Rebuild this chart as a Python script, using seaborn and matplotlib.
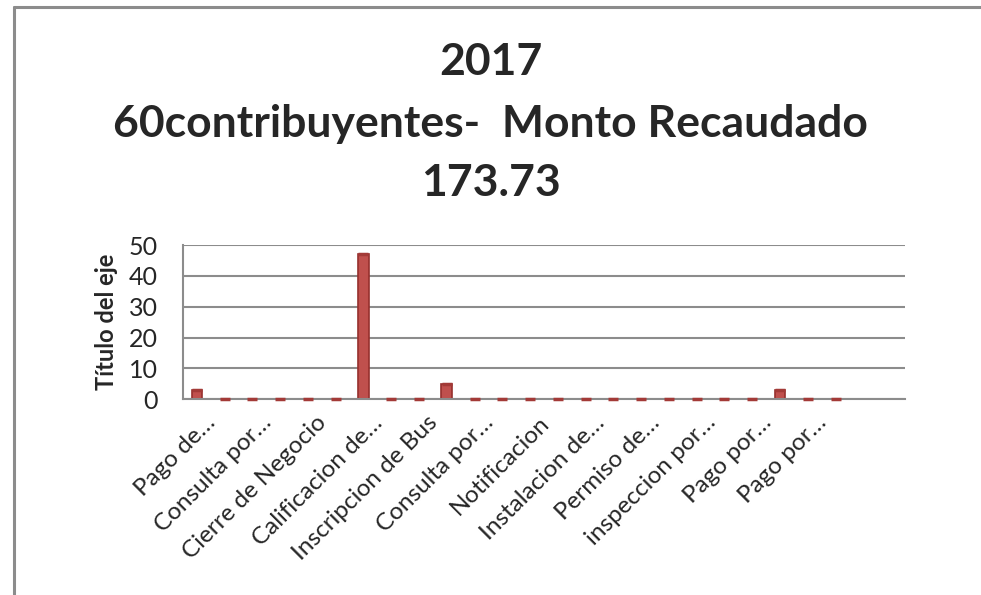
import matplotlib
matplotlib.use('Agg')
import matplotlib.pyplot as plt
import matplotlib.transforms as mtransforms
import pandas as pd
import numpy as np
import seaborn as sns
from matplotlib.lines import Line2D

# data (24 categories, only every other one is labelled)
tramites = [f'T{i + 1:02d}' for i in range(24)]
cantidad = [3, 0, 0, 0, 0, 0, 47, 0, 0, 5, 0, 0,
            0, 0, 0, 0, 0, 0, 0, 0, 0, 3, 0, 0]
etiquetas = ['Pago de…', 'Consulta por…', 'Cierre de Negocio', 'Calificacion de…',
             'Inscripcion de Bus', 'Consulta por…', 'Notificacion', 'Instalacion de…',
             'Permiso de…', 'inspeccion por…', 'Pago por…', 'Pago por…']
titulo = ['2017', '60contribuyentes-  Monto Recaudado', '173.73']

df = pd.DataFrame({'tramite': tramites, 'cantidad': cantidad})

sns.set_style('white')
plt.rcParams['font.family'] = ['Lato', 'DejaVu Sans']

fig = plt.figure(figsize=(9.81, 5.95), dpi=100)
ax = fig.add_axes([0.1865, 0.329, 0.736, 0.259])

sns.barplot(data=df, x='tramite', y='cantidad', color='#C0504D', width=0.38,
            edgecolor='#96302D', linewidth=1.2, saturation=1, ax=ax)
# flat "tops" so that the zero bars still show as small dashes
sns.scatterplot(data=df, x='tramite', y='cantidad', marker='_', s=60,
                color='#A33A37', linewidth=2.5, ax=ax, zorder=3, clip_on=False)

ax.set_ylim(0, 50)
ax.set_xlim(-0.5, len(tramites) + 1.5)
ax.set_yticks(range(0, 51, 10))
ax.yaxis.grid(True, color='#8c8c8c', linewidth=1.5)
ax.set_axisbelow(True)
for s in ['top', 'right']:
    ax.spines[s].set_visible(False)
for s in ['left', 'bottom']:
    ax.spines[s].set_color('#8c8c8c')
    ax.spines[s].set_linewidth(1.5)

ax.set_xticks(range(0, len(tramites), 2))
ax.set_xticklabels(etiquetas, rotation=45, ha='right', rotation_mode='anchor',
                   fontsize=17.5)
ax.tick_params(axis='x', length=0, pad=9)
shift = mtransforms.ScaledTranslation(8 / 100, 0, fig.dpi_scale_trans)
for lab in ax.get_xticklabels():
    lab.set_transform(lab.get_transform() + shift)
ax.tick_params(axis='y', length=0, pad=18, labelsize=18)
ax.set_xlabel('')
ax.set_ylabel('Título del eje', fontsize=17, fontweight='bold', labelpad=8)

for t, y in zip(titulo, [0.896, 0.792, 0.692]):
    fig.text(0.5, y, t, ha='center', va='center', fontsize=32, fontweight='bold')

# chart area border
fig.add_artist(Line2D([14 / 981, 14 / 981], [0, 1 - 7 / 595], color='#8c8c8c', lw=2.2))
fig.add_artist(Line2D([14 / 981, 1], [1 - 7 / 595, 1 - 7 / 595], color='#8c8c8c', lw=2.2))

fig.savefig('out.png', dpi=100)
